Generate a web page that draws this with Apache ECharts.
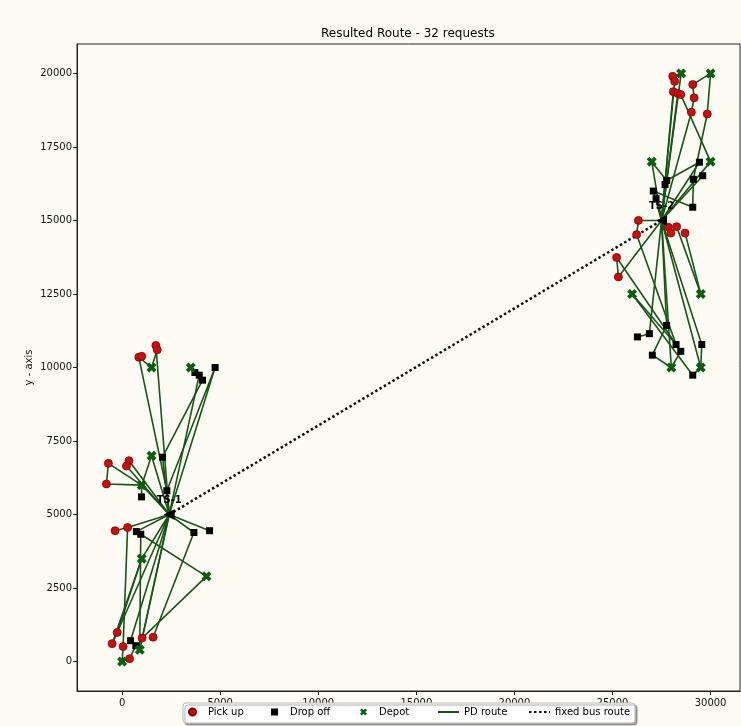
<!DOCTYPE html>
<html><head><meta charset="utf-8">
<script src="https://cdn.jsdelivr.net/npm/echarts@6/dist/echarts.min.js"></script>
<style>html,body{margin:0;padding:0;background:#fdfcf4;} #c{width:741px;height:726px;}</style>
</head><body><div id="c"></div><script>
// ---- data ----
const pickups = [
  [850,10350],[1000,10380],[1720,10750],[1790,10600],[-700,6740],[350,6830],[220,6650],[-800,6040],
  [-360,4450],[280,4560],[-250,990],[-510,610],[50,510],[380,100],[1020,800],[1580,830],
  [28070,19900],[28170,19730],[28100,19380],[28330,19320],[28480,19280],[29090,19620],[29160,19170],
  [29020,18680],[29830,18620],[26320,15000],[26230,14520],[27850,14770],[28270,14790],[27970,14570],
  [28700,14570],[25210,13740],[25300,13080]
];
const dropoffs = [
  [3710,9830],[3930,9740],[4100,9570],[4740,10000],[2060,6950],[2280,5810],[990,5600],[730,4420],
  [950,4330],[3660,4390],[4460,4450],[430,710],[700,540],
  [29430,16980],[29600,16520],[29120,16400],[27760,16360],[27680,16220],[27080,16000],[27220,15740],
  [29090,15450],[27760,11430],[26270,11040],[26880,11150],[28240,10780],[28480,10550],[29550,10780],
  [27030,10420],[29090,9740]
];
const depots = [
  [1500,10000],[3500,10000],[1500,7000],[1000,6000],[1000,3500],[4300,2900],[900,400],[0,0],
  [28500,20000],[30000,20000],[27000,17000],[30000,17000],[26000,12500],[29500,12500],[28000,10000],[29500,10000]
];
const transferStations = [[2400,5000],[27500,15000]];
const transferLabels = ['TS-1','TS-2'];
const busRoute = [[2400,5000],[27500,15000]];
const pdRoutes = [
  [[1500,10000],[850,10350],[2280,5810],[2400,5000]],
  [[1500,10000],[1790,10600],[1720,10750],[2400,5000]],
  [[2400,5000],[2060,6950],[4100,9570],[3930,9740],[3710,9830],[3500,10000]],
  [[2280,5810],[4740,10000],[2400,5000]],
  [[2400,5000],[3930,9740]],
  [[1000,6000],[1500,7000],[2400,5000]],
  [[-700,6740],[-800,6040],[1000,6000],[2400,5000]],
  [[350,6830],[2400,5000]],
  [[220,6650],[2400,5000]],
  [[-700,6740],[1000,6000]],
  [[-360,4450],[280,4560],[2400,5000]],
  [[280,4560],[50,510]],
  [[2400,5000],[730,4420],[950,4330],[4300,2900]],
  [[950,4330],[900,400]],
  [[2400,5000],[4460,4450]],
  [[2400,5000],[3660,4390],[1580,830]],
  [[4300,2900],[1020,800]],
  [[2400,5000],[1000,3500],[-510,610],[-250,990],[2400,5000]],
  [[1000,3500],[-250,990]],
  [[2400,5000],[1020,800]],
  [[2400,5000],[900,400]],
  [[2400,5000],[430,710]],
  [[50,510],[0,0],[380,100],[700,540]],
  [[430,710],[700,540],[900,400]],
  [[990,5600],[1000,6000]],
  [[28500,20000],[28070,19900],[28170,19730],[27500,15000]],
  [[28500,20000],[27500,15000]],
  [[28100,19380],[27500,15000]],
  [[28330,19320],[27500,15000]],
  [[28480,19280],[30000,17000],[27500,15000]],
  [[30000,20000],[29090,19620],[29160,19170],[29020,18680],[27500,15000]],
  [[30000,20000],[29830,18620],[29120,16400],[29090,15450],[27080,16000],[27500,15000]],
  [[27500,15000],[27680,16220],[27760,16360],[27000,17000],[27500,15000]],
  [[27760,16360],[29430,16980],[27500,15000]],
  [[27500,15000],[29600,16520]],
  [[27500,15000],[27220,15740]],
  [[26320,15000],[27500,15000]],
  [[26320,15000],[26230,14520],[28240,10780]],
  [[25210,13740],[25300,13080],[27500,15000]],
  [[25210,13740],[28480,10550]],
  [[27500,15000],[27850,14770]],
  [[27500,15000],[27970,14570]],
  [[28270,14790],[29500,12500]],
  [[28700,14570],[29500,12500]],
  [[26000,12500],[28240,10780]],
  [[26000,12500],[29090,9740]],
  [[27500,15000],[27760,11430],[27030,10420],[28000,10000]],
  [[27500,15000],[26880,11150],[26270,11040]],
  [[27500,15000],[28000,10000]],
  [[27500,15000],[29500,10000]],
  [[27500,15000],[29550,10780],[29500,10000],[29090,9740]],
  [[28480,10550],[28000,10000]]
];
const xTicks = [0,5000,10000,15000,20000,25000,30000];
const yTicks = [0,2500,5000,7500,10000,12500,15000,17500,20000];
const legendNames = ['Pick up','Drop off','Depot','PD route','fixed bus route'];

// ---- chart ----
const FONT = 'DejaVu Sans';
const depotPath = 'path://M0,1.6 L1.6,0 L3,1.4 L4.4,0 L6,1.6 L4.6,3 L6,4.4 L4.4,6 L3,4.6 L1.6,6 L0,4.4 L1.4,3 Z';
const squarePath = 'path://M0,0 L1,0 L1,1 L0,1 Z';
const chart = echarts.init(document.getElementById('c'), null, {renderer:'canvas'});
const series = [];
pdRoutes.forEach(r => series.push({
  name:legendNames[3], type:'line', data:r, symbol:'none', silent:true, z:2,
  lineStyle:{color:'#185418', width:1.6}, itemStyle:{color:'rgba(0,0,0,0)', borderWidth:0}
}));
series.push({
  name:legendNames[4], type:'line', data:busRoute, symbol:'none', z:3,
  lineStyle:{color:'#111', width:2.5, type:[2.5,2.5]}, itemStyle:{color:'rgba(0,0,0,0)', borderWidth:0}
});
series.push({name:legendNames[0], type:'scatter', data:pickups, symbol:'circle', symbolSize:8, z:4,
  itemStyle:{color:'#c80f0f', borderColor:'#8a0000', borderWidth:0.8, opacity:1}});
series.push({name:legendNames[1], type:'scatter', data:dropoffs, symbol:'rect', symbolSize:7, z:4,
  itemStyle:{color:'#000', opacity:1}});
series.push({name:legendNames[2], type:'scatter', data:depots, symbol:depotPath, symbolSize:10, z:4,
  itemStyle:{color:'#0b5e0b', opacity:1}});
series.push({name:'TS', type:'scatter', data:transferStations, symbol:'triangle', symbolRotate:90, symbolSize:11, z:5,
  itemStyle:{color:'#000', opacity:1},
  label:{show:true, position:'top', distance:4, fontFamily:FONT, fontSize:10, fontWeight:'bold', color:'#000',
    formatter:p => transferLabels[p.dataIndex]}});

const legendIcons = ['circle', squarePath, depotPath, null, null];
const legendLefts = [188, 271, 360, 437, 528];
const legends = legendNames.map((n, i) => ({
  left:legendLefts[i], top:707, padding:0, itemWidth:21, itemHeight:7, z:20,
  selectedMode:false,
  textStyle:{fontFamily:FONT, fontSize:10, color:'#000'},
  data:[legendIcons[i] ? {name:n, icon:legendIcons[i]} : {name:n}]
}));

chart.setOption({
  animation:false,
  backgroundColor:'#fdfcf4',
  title:{text:'Resulted Route - 32 requests', left:321, top:28, padding:0,
    textStyle:{fontFamily:FONT, fontSize:12, fontWeight:'normal', color:'#000'}},
  grid:{left:77, right:1, top:44, bottom:35, show:true, borderColor:'#222', borderWidth:1, backgroundColor:'transparent'},
  xAxis:{type:'value', min:-2300, max:31500, splitLine:{show:false},
    axisLine:{show:true, onZero:false, lineStyle:{color:'#222', width:1}},
    axisTick:{show:true, length:4, customValues:xTicks, lineStyle:{color:'#222'}},
    axisLabel:{customValues:xTicks, formatter:v => String(v), fontFamily:FONT, fontSize:10, color:'#111', margin:7}},
  yAxis:{type:'value', min:-1000, max:21000, splitLine:{show:false},
    name:'y - axis', nameLocation:'middle', nameGap:48, nameRotate:90, nameMoveOverlap:false,
    nameTextStyle:{fontFamily:FONT, fontSize:10, color:'#111', verticalAlign:'middle'},
    axisLine:{show:true, onZero:false, lineStyle:{color:'#222', width:1}},
    axisTick:{show:true, length:4, customValues:yTicks, lineStyle:{color:'#222'}},
    axisLabel:{customValues:yTicks, formatter:v => String(v), fontFamily:FONT, fontSize:10, color:'#111', margin:5}},
  graphic:[{type:'rect', z:15, silent:true,
    shape:{x:183, y:703, width:452, height:20, r:3},
    style:{fill:'#fefefe', stroke:'#bdbdbd', lineWidth:1,
      shadowColor:'rgba(0,0,0,0.35)', shadowOffsetX:2, shadowOffsetY:2, shadowBlur:1}}],
  legend:legends,
  series:series
});
</script></body></html>
